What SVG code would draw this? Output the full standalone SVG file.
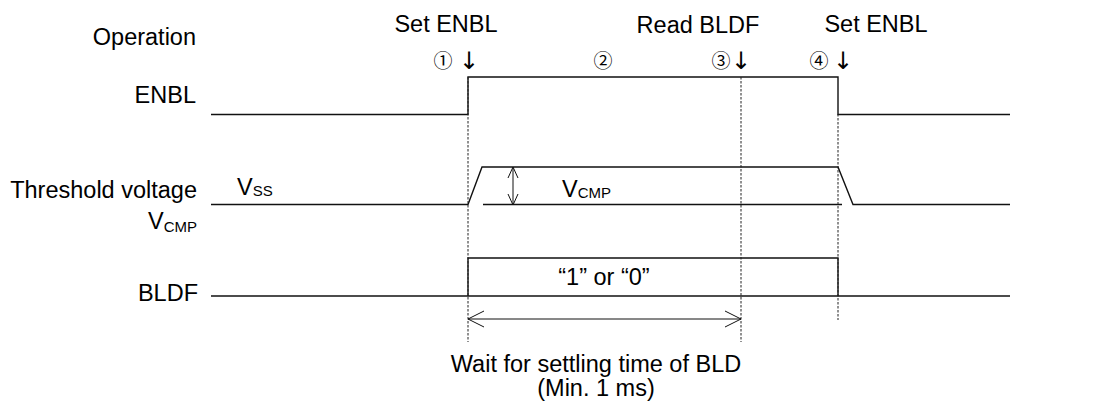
<svg xmlns="http://www.w3.org/2000/svg" width="1107" height="405" viewBox="0 0 1107 405">
<style>
text{font-family:"Liberation Sans",Arial,sans-serif;font-size:23.5px;fill:#000}
.r{text-anchor:end}
.m{text-anchor:middle}
.sub{font-size:15px}
.c{font-family:"Noto Sans CJK JP",sans-serif;font-size:19px;text-anchor:middle}
.a{font-family:"DejaVu Sans",sans-serif;font-size:24px;text-anchor:middle}
.w{fill:none;stroke:#111;stroke-width:1.4}
.d{fill:none;stroke:#222;stroke-width:1;stroke-dasharray:2.5 1.5}
.t{fill:none;stroke:#111;stroke-width:1}
</style>
<rect width="1107" height="405" fill="#fff"/>
<g id="labels">
<text class="r" x="196" y="45">Operation</text>
<text class="r" x="196" y="103">ENBL</text>
<text class="r" x="197" y="198">Threshold voltage</text>
<text x="148" y="229">V<tspan class="sub" dy="3">CMP</tspan></text>
<text class="r" x="198" y="301">BLDF</text>
</g>
<g id="operations">
<text class="m" x="446" y="32">Set ENBL</text>
<text class="m" x="698" y="33">Read BLDF</text>
<text class="m" x="876" y="32">Set ENBL</text>
<text class="c" x="443" y="68">①</text>
<text class="a" x="469" y="69">↓︎</text>
<text class="c" x="603" y="68">②</text>
<text class="c" x="721" y="68">③</text>
<text class="a" x="741" y="69">↓︎</text>
<text class="c" x="819" y="68">④</text>
<text class="a" x="843" y="69">↓︎</text>
</g>
<g id="enbl">
<polyline class="w" points="211,114.5 468,114.5 468,77 838,77 838,114.5 1010,114.5"/>
</g>
<g id="threshold">
<polyline class="w" points="211,204.5 468,204.5 482,167 838,167 853,204.5 1010,204.5"/>
<line class="w" x1="483" y1="204.5" x2="842" y2="204.5"/>
<text x="237" y="195">V<tspan class="sub" dy="1">SS</tspan></text>
<text x="562" y="197">V<tspan class="sub" dy="1">CMP</tspan></text>
</g>
<g id="bldf">
<line class="w" x1="211" y1="296" x2="1010" y2="296"/>
<polyline class="w" points="468,296 468,258 838,258 838,296"/>
<text class="m" x="604" y="285">“1” or “0”</text>
</g>
<g id="connectors">
<line class="d" x1="468" y1="77" x2="468" y2="342"/>
<line class="d" x1="741" y1="77" x2="741" y2="342"/>
<line class="d" x1="838" y1="114" x2="838" y2="320"/>
<line class="t" x1="513" y1="167" x2="513" y2="205"/>
<polyline class="t" points="508,178 513,167 518,178"/>
<polyline class="t" points="508,194 513,205 518,194"/>
<line class="t" x1="468" y1="319" x2="741" y2="319"/>
<polyline class="t" points="484,311 468,319 484,327"/>
<polyline class="t" points="725,311 741,319 725,327"/>
</g>
<g id="note">
<text class="m" x="596" y="372">Wait for settling time of BLD</text>
<text class="m" x="596" y="396">(Min. 1 ms)</text>
</g>
</svg>
